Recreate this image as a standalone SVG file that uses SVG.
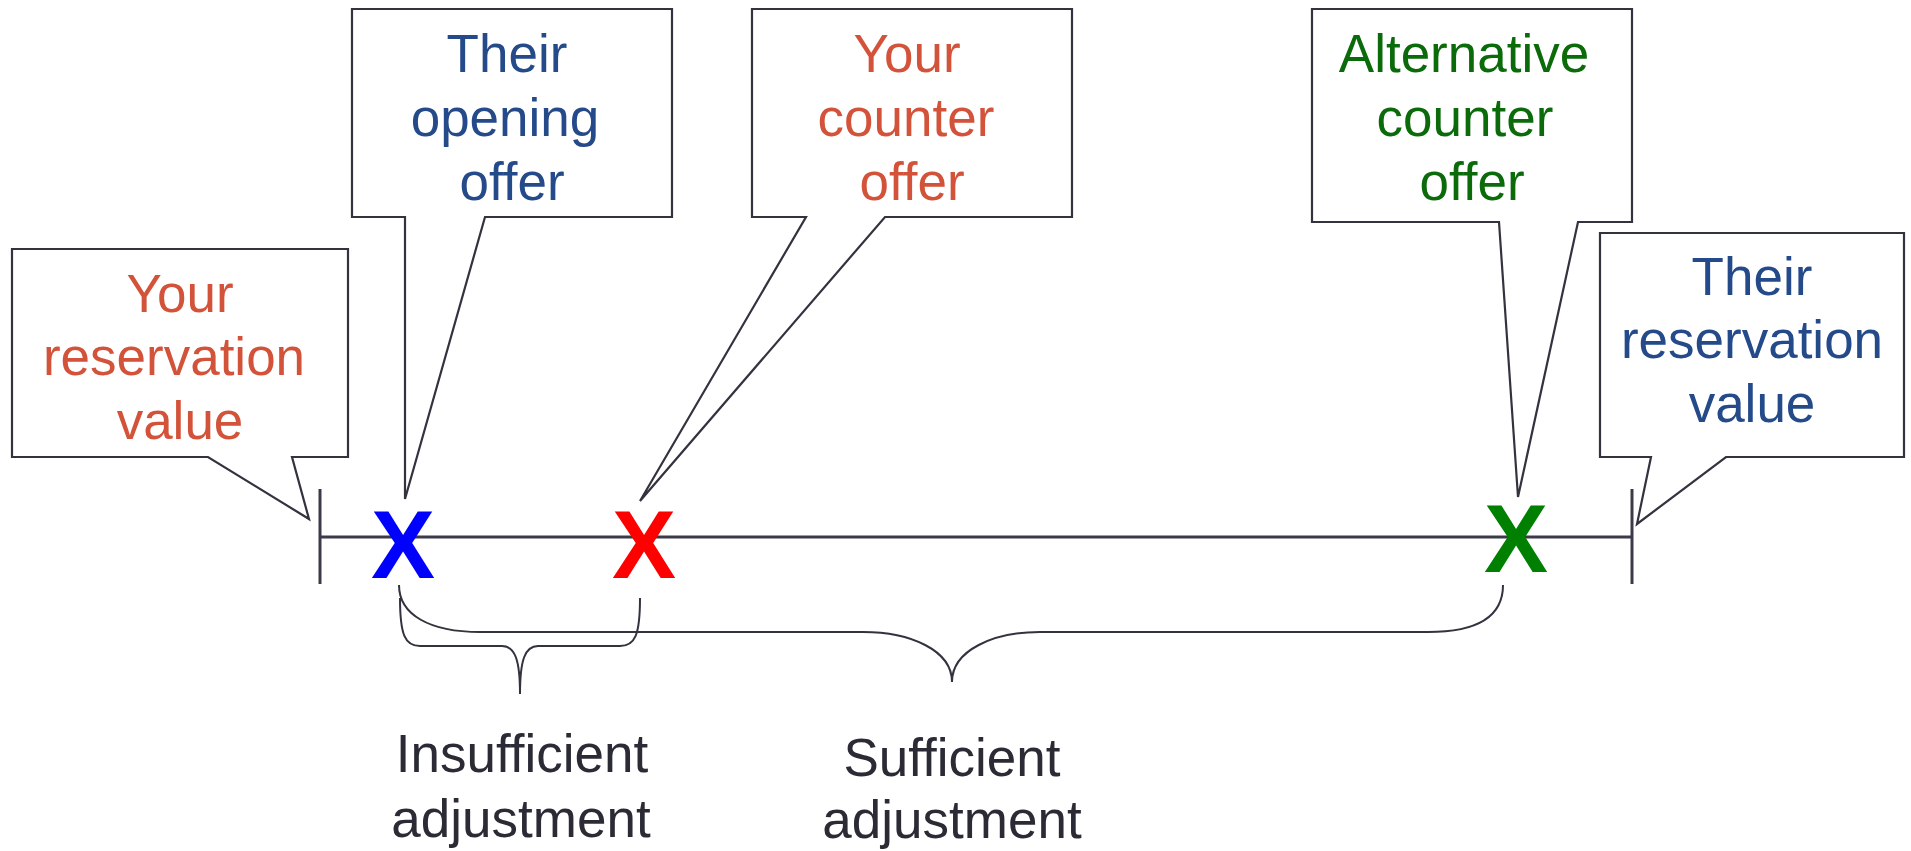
<svg xmlns="http://www.w3.org/2000/svg" width="1911" height="851" viewBox="0 0 1911 851">
<style>
.box{fill:#fff;stroke:#333340;stroke-width:2.2;stroke-linejoin:miter}
.t{font-family:"Liberation Sans",Arial,sans-serif;font-size:53px;text-anchor:middle}
.red{fill:#d3533a}
.blue{fill:#254a8a}
.green{fill:#0b6b0b}
.dark{fill:#2b2b36}
.x{font-family:"Liberation Sans",Arial,sans-serif;font-weight:bold;font-size:96px;text-anchor:middle}
.axis{stroke:#3a3a48;stroke-width:3;fill:none}
.brace{stroke:#333340;stroke-width:2;fill:none}
</style>
<rect width="1911" height="851" fill="#fff"/>
<g id="connectors">
  <line class="axis" x1="320" y1="537" x2="1632" y2="537"/>
  <line class="axis" x1="320" y1="489" x2="320" y2="584"/>
  <line class="axis" x1="1632" y1="489" x2="1632" y2="584"/>
  <path id="brace-sufficient" class="brace" d="M399,585 C399,615 430,632 480,632 L863,632 C910,632 952,650 952,682 C952,650 994,632 1040,632 L1428,632 C1480,632 1503,615 1503,585"/>
  <path id="brace-insufficient" class="brace" d="M400,598 C400,635 405,646 420,646 L502,646 C515,646 520,660 520,694 C520,660 525,646 538,646 L620,646 C635,646 640,635 640,598"/>
</g>
<g id="node-your-reservation">
  <path class="box" d="M12,249 L348,249 L348,457 L292,457 L309,519 L208,457 L12,457 Z"/>
  <text class="t red" x="180" y="312">Your</text>
  <text class="t red" x="174" y="375">reservation</text>
  <text class="t red" x="180" y="439">value</text>
</g>
<g id="node-their-opening">
  <path class="box" d="M352,9 L672,9 L672,217 L485,217 L405,499 L405,217 L352,217 Z"/>
  <text class="t blue" x="507" y="72">Their</text>
  <text class="t blue" x="505" y="136">opening</text>
  <text class="t blue" x="512" y="200">offer</text>
</g>
<g id="node-your-counter">
  <path class="box" d="M752,9 L1072,9 L1072,217 L885,217 L640,501 L806,217 L752,217 Z"/>
  <text class="t red" x="907" y="72">Your</text>
  <text class="t red" x="906" y="136">counter</text>
  <text class="t red" x="912" y="200">offer</text>
</g>
<g id="node-alternative-counter">
  <path class="box" d="M1312,9 L1632,9 L1632,222 L1578,222 L1518,497 L1499,222 L1312,222 Z"/>
  <text class="t green" x="1464" y="72">Alternative</text>
  <text class="t green" x="1465" y="136">counter</text>
  <text class="t green" x="1472" y="200">offer</text>
</g>
<g id="node-their-reservation">
  <path class="box" d="M1600,233 L1904,233 L1904,457 L1726,457 L1637,524 L1651,457 L1600,457 Z"/>
  <text class="t blue" x="1752" y="295">Their</text>
  <text class="t blue" x="1752" y="358">reservation</text>
  <text class="t blue" x="1752" y="422">value</text>
</g>
<g id="marker-blue"><text class="x" x="403" y="578" fill="#0000ff">X</text></g>
<g id="marker-red"><text class="x" x="644" y="578" fill="#ff0000">X</text></g>
<g id="marker-green"><text class="x" x="1516" y="572" fill="#008000">X</text></g>
<g id="label-insufficient">
  <text class="t dark" x="522" y="772">Insufficient</text>
  <text class="t dark" x="521" y="837">adjustment</text>
</g>
<g id="label-sufficient">
  <text class="t dark" x="952" y="776">Sufficient</text>
  <text class="t dark" x="952" y="838">adjustment</text>
</g>
</svg>
